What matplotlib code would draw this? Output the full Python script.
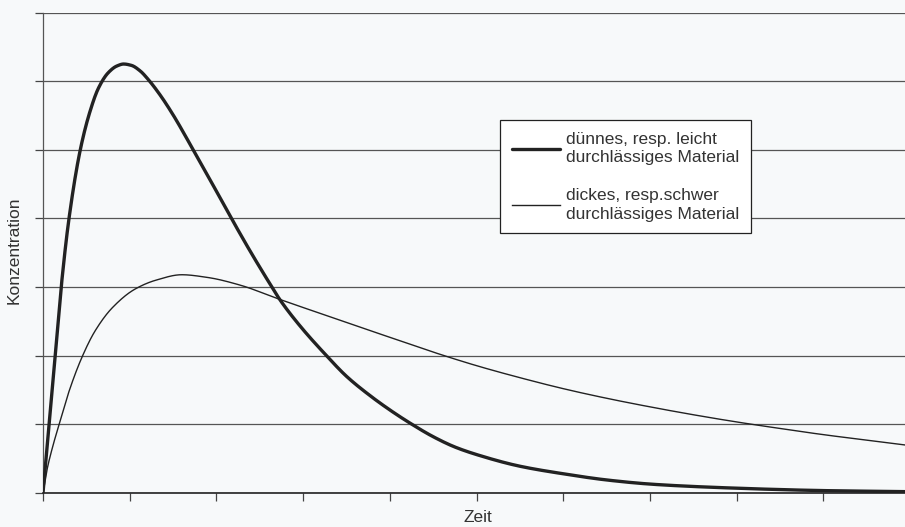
import matplotlib.pyplot as plt
import numpy as np

plt.rcParams['font.family'] = ['Liberation Sans', 'DejaVu Sans']

# Werte (Zeit in Teilstrichen, Konzentration in Gitterlinien)
t_duenn = [0, 0.07, 0.14, 0.21, 0.30, 0.43, 0.54, 0.64, 0.75, 0.85, 0.93,
           1.02, 1.12, 1.21, 1.35, 1.50, 1.71, 1.95, 2.16, 2.40, 2.64, 2.73,
           2.96, 3.27, 3.50, 3.77, 4.0, 4.23, 4.50, 4.75, 5.0, 5.5, 6.0, 6.5,
           7.0, 7.5, 8.0, 8.5, 9.0, 9.94]
c_duenn = [0, 1.0, 2.0, 3.0, 4.0, 5.0, 5.55, 5.9, 6.12, 6.22, 6.25,
           6.23, 6.15, 6.03, 5.80, 5.51, 5.05, 4.51, 4.03, 3.50, 3.0, 2.82,
           2.44, 2.0, 1.70, 1.42, 1.21, 1.02, 0.82, 0.67, 0.56, 0.39, 0.28, 0.19,
           0.13, 0.095, 0.07, 0.05, 0.035, 0.02]

t_dick = [0, 0.05, 0.10, 0.20, 0.30, 0.45, 0.60, 0.80, 1.06, 1.30, 1.60,
          1.90, 2.27, 2.71, 3.20, 3.66, 4.10, 4.58, 5.0, 5.5, 6.0, 6.5, 7.0,
          7.5, 8.0, 8.5, 9.0, 9.5, 9.94]
c_dick = [0, 0.36, 0.62, 1.06, 1.48, 1.98, 2.36, 2.70, 2.97, 3.10, 3.18,
          3.14, 3.03, 2.83, 2.615, 2.415, 2.225, 2.02, 1.855, 1.68, 1.52, 1.38,
          1.255, 1.14, 1.035, 0.94, 0.85, 0.77, 0.70]

label_duenn = 'dünnes, resp. leicht\ndurchlässiges Material'
label_dick = 'dickes, resp.schwer\ndurchlässiges Material'

hintergrund = '#f7f9fa'


# monotone kubische Interpolation (Fritsch-Carlson), nur zum Glätten der Linie
def glatt(x, y, n=600):
    x = np.asarray(x, float)
    y = np.asarray(y, float)
    h = np.diff(x)
    d = np.diff(y) / h
    m = np.zeros_like(y)
    m[0] = d[0]
    m[-1] = d[-1]
    for i in range(1, len(x) - 1):
        if d[i - 1] * d[i] > 0:
            w1 = 2 * h[i] + h[i - 1]
            w2 = h[i] + 2 * h[i - 1]
            m[i] = (w1 + w2) / (w1 / d[i - 1] + w2 / d[i])
    xs = np.linspace(x[0], x[-1], n)
    k = np.clip(np.searchsorted(x, xs) - 1, 0, len(x) - 2)
    s = (xs - x[k]) / h[k]
    h00 = 2 * s**3 - 3 * s**2 + 1
    h10 = s**3 - 2 * s**2 + s
    h01 = -2 * s**3 + 3 * s**2
    h11 = s**3 - s**2
    ys = h00 * y[k] + h10 * h[k] * m[k] + h01 * y[k + 1] + h11 * h[k] * m[k + 1]
    return xs, ys


fig = plt.figure(figsize=(9.05, 5.27), dpi=100, facecolor=hintergrund)
ax = fig.add_axes([0.0475, 0.0645, 0.9525, 0.9117], facecolor=hintergrund)

x1, y1 = glatt(t_duenn, c_duenn, 2000)
x2, y2 = glatt(t_dick, c_dick, 2000)
ax.plot(x1, y1, color='#222222', linewidth=2.4, label=label_duenn,
        solid_capstyle='round', zorder=3)
ax.plot(x2, y2, color='#222222', linewidth=1.0, label=label_dick, zorder=3)

ax.set_xlim(0, 9.94)
ax.set_ylim(0, 7)
ax.set_xticks(range(0, 10))
ax.set_yticks(range(0, 8))
ax.set_xticklabels([])
ax.set_yticklabels([])
ax.tick_params(axis='both', direction='out', length=6, width=0.9, color='#444444')

# horizontale Gitterlinien
ax.grid(axis='y', color='#555555', linewidth=0.9)
ax.set_axisbelow(True)

for side in ['top', 'right']:
    ax.spines[side].set_visible(False)
ax.spines['left'].set_color('#555555')
ax.spines['left'].set_linewidth(0.9)
ax.spines['bottom'].set_color('#222222')
ax.spines['bottom'].set_linewidth(1.2)

# Achsentitel von Hand gesetzt
fig.text(478 / 905, 1 - 518 / 527, 'Zeit', fontsize=12.5, color='#333333',
         ha='center', va='center')
fig.text(14 / 905, 1 - 250 / 527, 'Konzentration', fontsize=12.5, color='#333333',
         ha='center', va='center', rotation=90)

leg = ax.legend(loc='upper left', bbox_to_anchor=(500 / 905, 1 - 120 / 527),
                bbox_transform=fig.transFigure, fontsize=12.5, frameon=True,
                fancybox=False, edgecolor='#222222', framealpha=1,
                handlelength=2.75, handletextpad=0.35, labelspacing=1.3,
                borderpad=0.68, borderaxespad=0)
leg.get_frame().set_facecolor('white')
leg.get_frame().set_linewidth(0.9)
for text in leg.get_texts():
    text.set_color('#333333')
    text.set_linespacing(1.3)

fig.savefig('out.png', dpi=100, facecolor=hintergrund)
